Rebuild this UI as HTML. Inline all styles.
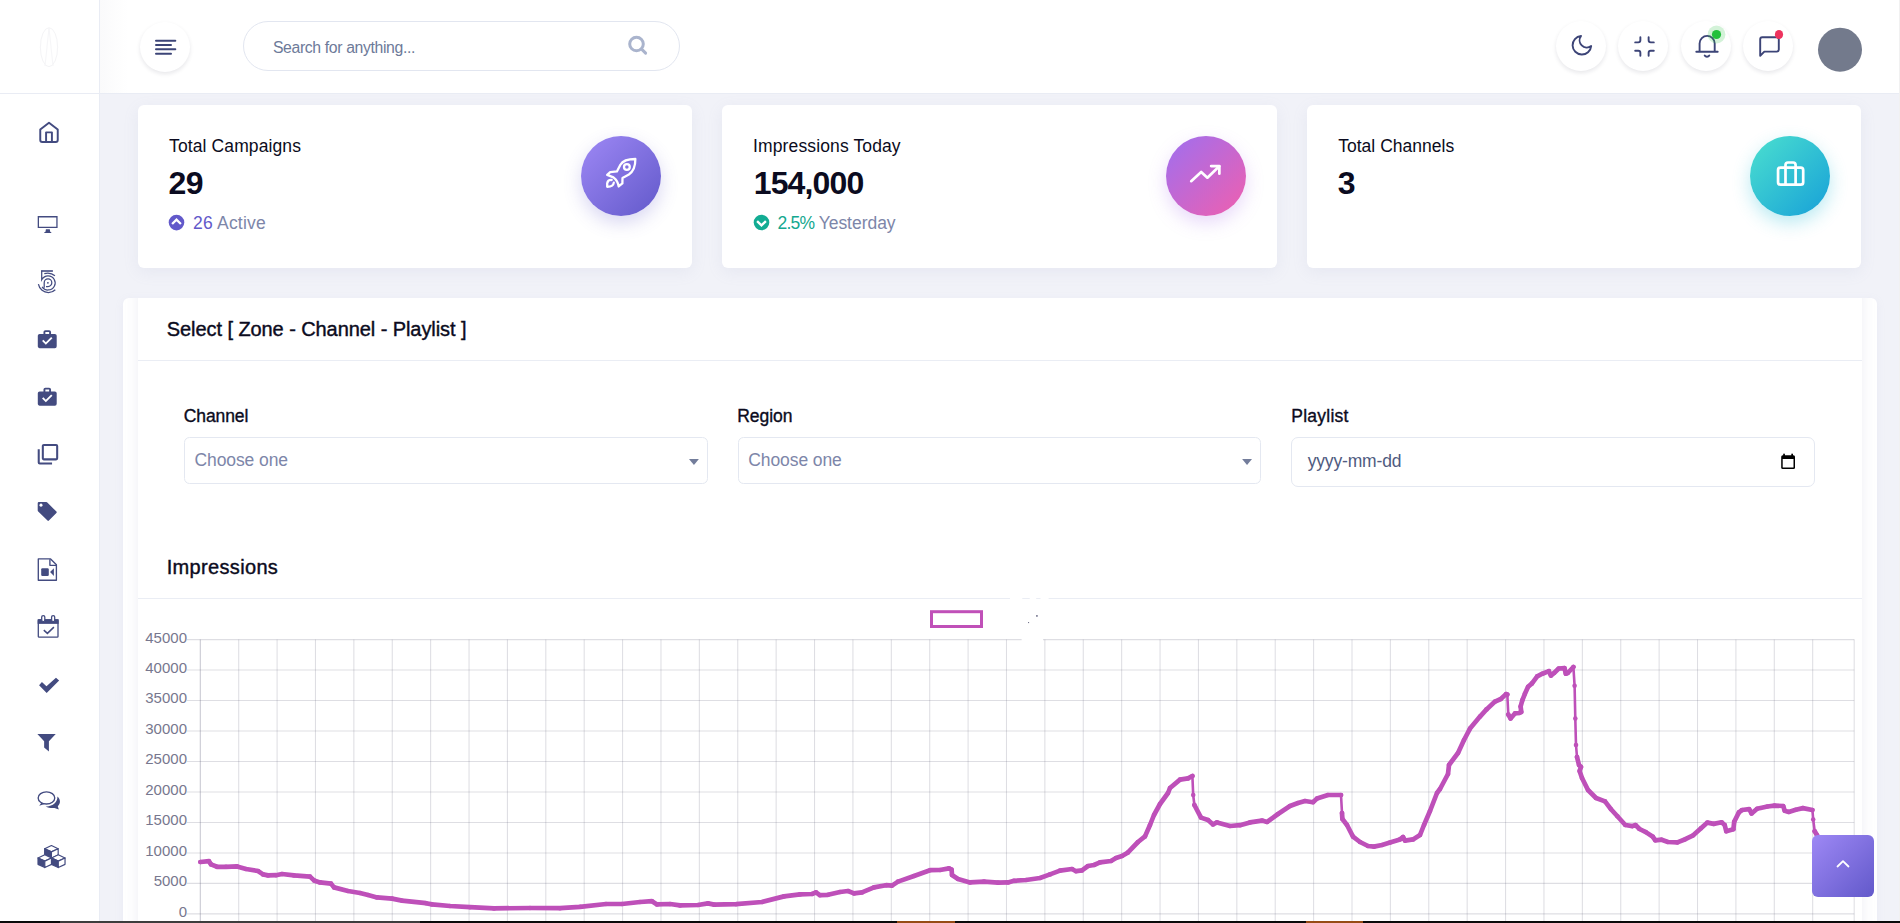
<!DOCTYPE html>
<html lang="en">
<head>
<meta charset="utf-8">
<title>Dashboard</title>
<style>
*{box-sizing:border-box;margin:0;padding:0}
html,body{width:1900px;height:923px;overflow:hidden;background:#f1f2f8;font-family:"Liberation Sans",sans-serif;color:#0f0f2a}
.abs{position:absolute}
#page{position:relative;width:1900px;height:923px;overflow:hidden;background:#f1f2f8}
#sidebar{left:0;top:0;width:100px;height:923px;background:#fff;border-right:1px solid #e9ecf4}
#logo{left:0;top:0;width:100px;height:94px;border-bottom:1px solid #e9ecf4;border-right:1px solid #e9ecf4;background:#fff}
#header{left:100px;top:0;width:1800px;height:94px;background:linear-gradient(90deg,#fafafb 0,#fff 28px);border-bottom:1px solid #e9ecf4}
.circ{width:50px;height:50px;border-radius:50%;background:#fff;box-shadow:0 2px 4px rgba(20,20,50,.10)}
#search{left:243px;top:21px;width:437px;height:50px;border:1px solid #e2e6f0;border-radius:25px;background:#fff}
.t{position:absolute;display:block;white-space:nowrap;line-height:1;font-weight:normal}
.card{position:absolute;background:#fff;border-radius:6px;box-shadow:0 4px 16px rgba(150,155,195,.11)}
.gc{position:absolute;width:80px;height:80px;border-radius:50%}
.lbl{font-size:17.5px;color:#0f0f2a;-webkit-text-stroke:.35px #0f0f2a}
.sel{position:absolute;height:47px;border:1px solid #e4e8f1;border-radius:5.500px;background:#fff}
.ph{font-size:17.5px;color:#7987a8}
svg{position:absolute;overflow:visible}
</style>
</head>
<body>
<div id="page">
<aside class="abs" id="sidebar"></aside>
<header class="abs" id="header"></header>
<div class="abs" id="logo"></div>
<div class="abs circ" style="left:140px;top:21.500px"></div>
<div class="abs" id="search"></div>
<div class="abs circ" style="left:1556px;top:20.500px"></div>
<div class="abs circ" style="left:1618px;top:20.500px"></div>
<div class="abs circ" style="left:1681px;top:20.500px"></div>
<div class="abs circ" style="left:1743px;top:20.500px"></div>
<!-- outer wrapper card -->
<div class="abs" style="left:123px;top:298px;width:1754px;height:700px;background:#fff;border-radius:6px;box-shadow:0 2px 10px rgba(150,155,195,.09);overflow:hidden">
<!-- inner card -->
<div class="abs" id="inner" style="left:15px;top:-14px;width:1724px;height:720px;background:#fff;border-radius:6px;box-shadow:0 0 14px rgba(150,155,195,.16)"></div>
</div>
<div class="abs" style="left:138px;top:360px;width:1724px;height:1px;background:#eaedf4"></div>
<div class="abs" style="left:138px;top:598px;width:1724px;height:1px;background:#eaedf4"></div>

<!-- stat cards -->
<div class="card" style="left:138px;top:105px;width:554px;height:163px"></div>
<div class="card" style="left:722px;top:105px;width:555px;height:163px"></div>
<div class="card" style="left:1307px;top:105px;width:554px;height:163px"></div>

<div class="gc" style="left:581px;top:136px;background:linear-gradient(135deg,#9e88f5 0%,#6259ca 100%);box-shadow:0 7px 18px rgba(98,89,202,.24)"></div>
<div class="gc" style="left:1166px;top:136px;background:linear-gradient(135deg,#9e6ff0 0%,#f05fae 100%);box-shadow:0 7px 18px rgba(165,110,235,.26)"></div>
<div class="gc" style="left:1750px;top:136px;background:linear-gradient(135deg,#4be0cf 0%,#17a0d8 100%);box-shadow:0 7px 18px rgba(40,190,215,.32)"></div>




<!-- titles -->

<!-- form -->
<div class="sel" style="left:184px;top:437px;width:524px"></div>
<div class="sel" style="left:738px;top:437px;width:523px"></div>
<div class="sel" style="left:1291px;top:437px;width:524px;height:50px;border-radius:7px"></div>
<span class="t" id="t_search" style="left:272.93px;top:40.00px;font-size:15.8px;letter-spacing:-0.366px;color:#6d7a99">Search for anything...</span>
<h6 class="t" id="t_tc" style="left:169.04px;top:138.00px;font-size:17.5px;letter-spacing:0.113px;color:#0b0b20">Total Campaigns</h6>
<h2 class="t" id="t_29" style="left:168.57px;top:167.00px;font-size:32px;letter-spacing:-0.655px;font-weight:bold;color:#0b0b20">29</h2>
<p class="t" id="t_26" style="left:192.93px;top:215.00px;font-size:17.5px;letter-spacing:0.231px;color:#7d86a9"><span style="color:#6259ca">26</span> Active</p>
<h6 class="t" id="t_it" style="left:753.08px;top:138.00px;font-size:17.5px;letter-spacing:0.122px;color:#0b0b20">Impressions Today</h6>
<h2 class="t" id="t_154" style="left:753.72px;top:167.00px;font-size:32px;letter-spacing:-0.853px;font-weight:bold;color:#0b0b20">154,000</h2>
<p class="t" id="t_25" style="left:777.62px;top:215.00px;font-size:17.5px;letter-spacing:-0.025px;color:#7d86a9"><span style="color:#14a88f;letter-spacing:-.85px">2.5%</span> Yesterday</p>
<h6 class="t" id="t_tch" style="left:1338.18px;top:138.00px;font-size:17.5px;letter-spacing:0.023px;color:#0b0b20">Total Channels</h6>
<h2 class="t" id="t_3" style="left:1337.65px;top:167.00px;font-size:32px;letter-spacing:0.000px;font-weight:bold;color:#0b0b20">3</h2>
<h3 class="t" id="t_sel" style="left:166.82px;top:319.00px;font-size:20px;letter-spacing:-0.077px;color:#0b0b20;-webkit-text-stroke:.4px #0b0b20">Select [ Zone - Channel - Playlist ]</h3>
<h3 class="t" id="t_imp" style="left:166.69px;top:557.00px;font-size:20px;letter-spacing:0.335px;color:#0b0b20;-webkit-text-stroke:.4px #0b0b20">Impressions</h3>
<label class="t" id="t_ch" style="left:183.71px;top:408.00px;font-size:17.5px;letter-spacing:-0.083px;color:#0b0b20;-webkit-text-stroke:.35px #0b0b20">Channel</label>
<label class="t" id="t_rg" style="left:737.21px;top:408.00px;font-size:17.5px;letter-spacing:-0.024px;color:#0b0b20;-webkit-text-stroke:.35px #0b0b20">Region</label>
<label class="t" id="t_pl" style="left:1291.25px;top:408.00px;font-size:17.5px;letter-spacing:0.256px;color:#0b0b20;-webkit-text-stroke:.35px #0b0b20">Playlist</label>
<span class="t" id="t_c1" style="left:194.49px;top:452.00px;font-size:17.5px;letter-spacing:-0.095px;color:#7d86a9">Choose one</span>
<span class="t" id="t_c2" style="left:748.22px;top:452.00px;font-size:17.5px;letter-spacing:-0.085px;color:#7d86a9">Choose one</span>
<span class="t" id="t_dt" style="left:1307.64px;top:453.00px;font-size:17.5px;letter-spacing:-0.154px;color:#4f5b80">yyyy-mm-dd</span>
<svg width="1900" height="923" viewBox="0 0 1900 923" style="left:0;top:0" fill="none">
<g stroke="rgba(88,88,115,0.2)" stroke-width="1.05">
<line x1="187" y1="913.85" x2="1854.2" y2="913.85"/>
<line x1="187" y1="883.38" x2="1854.2" y2="883.38"/>
<line x1="187" y1="852.91" x2="1854.2" y2="852.91"/>
<line x1="187" y1="822.44" x2="1854.2" y2="822.44"/>
<line x1="187" y1="791.97" x2="1854.2" y2="791.97"/>
<line x1="187" y1="761.50" x2="1854.2" y2="761.50"/>
<line x1="187" y1="731.03" x2="1854.2" y2="731.03"/>
<line x1="187" y1="700.56" x2="1854.2" y2="700.56"/>
<line x1="187" y1="670.09" x2="1854.2" y2="670.09"/>
<line x1="187" y1="639.62" x2="1854.2" y2="639.62"/>
<line x1="200.30" y1="639.62" x2="200.30" y2="923"/>
<line x1="238.69" y1="639.62" x2="238.69" y2="923"/>
<line x1="277.08" y1="639.62" x2="277.08" y2="923"/>
<line x1="315.47" y1="639.62" x2="315.47" y2="923"/>
<line x1="353.86" y1="639.62" x2="353.86" y2="923"/>
<line x1="392.25" y1="639.62" x2="392.25" y2="923"/>
<line x1="430.64" y1="639.62" x2="430.64" y2="923"/>
<line x1="469.03" y1="639.62" x2="469.03" y2="923"/>
<line x1="507.42" y1="639.62" x2="507.42" y2="923"/>
<line x1="545.81" y1="639.62" x2="545.81" y2="923"/>
<line x1="584.20" y1="639.62" x2="584.20" y2="923"/>
<line x1="622.59" y1="639.62" x2="622.59" y2="923"/>
<line x1="660.98" y1="639.62" x2="660.98" y2="923"/>
<line x1="699.37" y1="639.62" x2="699.37" y2="923"/>
<line x1="737.76" y1="639.62" x2="737.76" y2="923"/>
<line x1="776.15" y1="639.62" x2="776.15" y2="923"/>
<line x1="814.54" y1="639.62" x2="814.54" y2="923"/>
<line x1="852.93" y1="639.62" x2="852.93" y2="923"/>
<line x1="891.32" y1="639.62" x2="891.32" y2="923"/>
<line x1="929.71" y1="639.62" x2="929.71" y2="923"/>
<line x1="968.10" y1="639.62" x2="968.10" y2="923"/>
<line x1="1006.49" y1="639.62" x2="1006.49" y2="923"/>
<line x1="1044.88" y1="639.62" x2="1044.88" y2="923"/>
<line x1="1083.27" y1="639.62" x2="1083.27" y2="923"/>
<line x1="1121.66" y1="639.62" x2="1121.66" y2="923"/>
<line x1="1160.05" y1="639.62" x2="1160.05" y2="923"/>
<line x1="1198.44" y1="639.62" x2="1198.44" y2="923"/>
<line x1="1236.83" y1="639.62" x2="1236.83" y2="923"/>
<line x1="1275.22" y1="639.62" x2="1275.22" y2="923"/>
<line x1="1313.61" y1="639.62" x2="1313.61" y2="923"/>
<line x1="1352.00" y1="639.62" x2="1352.00" y2="923"/>
<line x1="1390.39" y1="639.62" x2="1390.39" y2="923"/>
<line x1="1428.78" y1="639.62" x2="1428.78" y2="923"/>
<line x1="1467.17" y1="639.62" x2="1467.17" y2="923"/>
<line x1="1505.56" y1="639.62" x2="1505.56" y2="923"/>
<line x1="1543.95" y1="639.62" x2="1543.95" y2="923"/>
<line x1="1582.34" y1="639.62" x2="1582.34" y2="923"/>
<line x1="1620.73" y1="639.62" x2="1620.73" y2="923"/>
<line x1="1659.12" y1="639.62" x2="1659.12" y2="923"/>
<line x1="1697.51" y1="639.62" x2="1697.51" y2="923"/>
<line x1="1735.90" y1="639.62" x2="1735.90" y2="923"/>
<line x1="1774.29" y1="639.62" x2="1774.29" y2="923"/>
<line x1="1812.68" y1="639.62" x2="1812.68" y2="923"/>
<line x1="1854.2" y1="639.62" x2="1854.2" y2="923"/>
</g>
<line x1="200.3" y1="639.62" x2="200.3" y2="923" stroke="rgba(88,88,115,0.15)" stroke-width="1.05"/>
<g font-family="Liberation Sans, sans-serif" font-size="15" fill="#77778e" text-anchor="end">
<text x="187" y="916.75">0</text>
<text x="187" y="886.28">5000</text>
<text x="187" y="855.81">10000</text>
<text x="187" y="825.34">15000</text>
<text x="187" y="794.87">20000</text>
<text x="187" y="764.40">25000</text>
<text x="187" y="733.93">30000</text>
<text x="187" y="703.46">35000</text>
<text x="187" y="672.99">40000</text>
<text x="187" y="642.52">45000</text>
</g>
<path d="M1010 596.500h12.300v3.500h-12.300z M1029.700 596.500h6.500v3.500h-6.500z M1040.500 596.500h8.100v3.500h-8.100z M1021.600 637.500h21.400v3.600h-21.400z" fill="#fff"/><rect x="1036" y="615" width="1.800" height="1.800" fill="#8a8aa0"/><rect x="1028" y="622" width="1.100" height="1.100" fill="#77778e"/>
<rect x="931.5" y="611.7" width="50" height="14.800" stroke="#c050b8" stroke-width="3"/>
<path d="M200.4 862.0 L209.0 861.2 L211.0 864.4 L217.0 866.8 L226.0 866.8 L237.0 866.4 L246.0 869.0 L258.0 871.0 L263.0 874.4 L268.0 875.4 L276.0 875.2 L282.0 874.0 L294.0 875.4 L310.0 876.6 L314.0 880.4 L320.0 882.4 L331.0 883.6 L334.0 887.4 L348.0 891.0 L360.0 893.0 L368.0 895.0 L377.0 897.4 L392.0 898.6 L402.0 900.6 L426.0 903.2 L432.0 904.4 L450.0 906.0 L470.0 907.2 L494.0 908.4 L530.0 908.0 L560.0 908.2 L580.0 906.8 L606.0 904.0 L622.0 904.0 L640.0 902.0 L652.0 901.2 L657.0 904.4 L670.0 904.0 L680.0 905.4 L698.0 905.0 L708.0 903.4 L714.0 904.6 L736.0 904.2 L762.0 902.0 L784.0 896.4 L800.0 894.4 L812.0 894.0 L816.0 892.4 L820.0 895.2 L828.0 894.8 L840.0 892.0 L848.0 891.0 L854.0 893.4 L862.0 892.4 L874.0 887.4 L886.0 885.2 L892.0 885.6 L898.0 881.6 L914.0 876.0 L930.0 870.2 L940.0 870.0 L949.0 868.4 L951.6 869.6 L952.0 875.0 L958.0 879.0 L970.0 882.4 L984.0 881.6 L998.0 882.6 L1008.0 882.4 L1014.0 880.8 L1026.0 880.0 L1040.0 878.0 L1050.0 874.4 L1060.0 870.6 L1072.0 869.0 L1076.0 871.2 L1082.0 870.4 L1088.0 866.0 L1094.0 865.0 L1100.0 862.4 L1111.0 861.0 L1116.0 858.0 L1122.0 856.0 L1128.0 852.4 L1138.0 842.0 L1145.0 836.4 L1150.0 825.0 L1154.0 815.0 L1160.0 804.0 L1168.0 793.0 L1170.0 788.0 L1180.0 779.6 L1188.0 778.4 L1192.4 776.0 L1193.2 795.0 L1194.4 805.0 L1201.0 817.6 L1208.0 820.0 L1213.0 824.4 L1217.0 822.4 L1230.0 826.0 L1240.0 825.2 L1250.0 822.4 L1262.0 820.6 L1267.0 822.0 L1278.0 814.0 L1290.0 806.0 L1298.0 803.0 L1305.0 801.0 L1313.0 802.2 L1317.0 798.6 L1328.0 795.0 L1341.0 795.0 L1342.0 813.0 L1342.4 819.0 L1347.0 825.0 L1353.0 836.6 L1360.0 842.0 L1368.0 846.0 L1374.0 846.6 L1382.0 845.0 L1390.0 842.6 L1400.0 839.4 L1403.0 837.0 L1405.0 840.6 L1413.0 839.4 L1420.0 835.0 L1424.0 825.0 L1430.0 811.0 L1437.0 793.0 L1440.0 789.0 L1448.0 774.0 L1449.0 765.0 L1458.0 753.0 L1464.0 740.0 L1470.0 728.6 L1480.0 716.6 L1486.5 709.4 L1495.0 701.6 L1500.8 699.0 L1506.0 694.1 L1507.3 694.5 L1508.3 714.6 L1510.6 718.5 L1515.1 713.3 L1519.0 713.0 L1521.3 712.0 L1520.6 706.5 L1522.3 700.3 L1524.9 693.8 L1528.1 686.7 L1532.0 683.4 L1537.2 676.3 L1542.4 673.7 L1548.9 671.1 L1550.9 675.6 L1554.1 673.0 L1558.7 668.5 L1564.5 668.1 L1565.8 673.7 L1567.8 673.0 L1573.4 667.0 L1574.6 685.7 L1575.3 718.5 L1576.0 745.0 L1577.0 757.0 L1579.0 765.0 L1581.0 767.0 L1579.6 771.0 L1582.0 778.0 L1588.0 790.0 L1596.0 798.0 L1605.0 801.4 L1611.0 809.2 L1617.4 816.3 L1625.3 825.0 L1632.4 826.1 L1635.5 825.0 L1639.5 829.0 L1645.8 832.1 L1652.9 836.8 L1655.3 840.3 L1661.6 839.7 L1667.9 842.0 L1677.4 842.4 L1685.3 839.2 L1693.2 835.3 L1701.0 828.2 L1707.4 822.6 L1713.7 823.9 L1721.6 822.3 L1724.7 825.0 L1726.3 831.3 L1733.4 829.3 L1734.2 821.8 L1738.9 812.4 L1742.1 810.0 L1749.2 809.2 L1751.6 813.5 L1757.1 808.7 L1767.4 806.5 L1774.5 805.6 L1783.2 806.0 L1784.7 810.8 L1788.7 812.0 L1795.8 809.7 L1802.9 808.1 L1812.4 810.0 L1813.2 819.5 L1814.7 831.3 L1817.1 835.3 L1819.0 842.0 L1822.0 850.0" stroke="#be50b9" stroke-width="2.600" stroke-linejoin="round" stroke-linecap="round"/>
<path d="M200.4 862.0 L209.0 861.2 L211.0 864.4 L217.0 866.8 L226.0 866.8 L237.0 866.4 L246.0 869.0 L258.0 871.0 L263.0 874.4 L268.0 875.4 L276.0 875.2 L282.0 874.0 L294.0 875.4 L310.0 876.6 L314.0 880.4 L320.0 882.4 L331.0 883.6 L334.0 887.4 L348.0 891.0 L360.0 893.0 L368.0 895.0 L377.0 897.4 L392.0 898.6 L402.0 900.6 L426.0 903.2 L432.0 904.4 L450.0 906.0 L470.0 907.2 L494.0 908.4 L530.0 908.0 L560.0 908.2 L580.0 906.8 L606.0 904.0 L622.0 904.0 L640.0 902.0 L652.0 901.2 L657.0 904.4 L670.0 904.0 L680.0 905.4 L698.0 905.0 L708.0 903.4 L714.0 904.6 L736.0 904.2 L762.0 902.0 L784.0 896.4 L800.0 894.4 L812.0 894.0 L816.0 892.4 L820.0 895.2 L828.0 894.8 L840.0 892.0 L848.0 891.0 L854.0 893.4 L862.0 892.4 L874.0 887.4 L886.0 885.2 L892.0 885.6 L898.0 881.6 L914.0 876.0 L930.0 870.2 L940.0 870.0 L949.0 868.4 L951.6 869.6 L952.0 875.0 L958.0 879.0 L970.0 882.4 L984.0 881.6 L998.0 882.6 L1008.0 882.4 L1014.0 880.8 L1026.0 880.0 L1040.0 878.0 L1050.0 874.4 L1060.0 870.6 L1072.0 869.0 L1076.0 871.2 L1082.0 870.4 L1088.0 866.0 L1094.0 865.0 L1100.0 862.4 L1111.0 861.0 L1116.0 858.0 L1122.0 856.0 L1128.0 852.4 L1138.0 842.0 L1145.0 836.4 L1150.0 825.0 L1154.0 815.0 L1160.0 804.0 L1168.0 793.0 L1170.0 788.0 L1180.0 779.6 L1188.0 778.4 L1192.4 776.0 M1194.4 805.0 L1201.0 817.6 L1208.0 820.0 L1213.0 824.4 L1217.0 822.4 L1230.0 826.0 L1240.0 825.2 L1250.0 822.4 L1262.0 820.6 L1267.0 822.0 L1278.0 814.0 L1290.0 806.0 L1298.0 803.0 L1305.0 801.0 L1313.0 802.2 L1317.0 798.6 L1328.0 795.0 L1341.0 795.0 M1342.0 813.0 L1342.4 819.0 L1347.0 825.0 L1353.0 836.6 L1360.0 842.0 L1368.0 846.0 L1374.0 846.6 L1382.0 845.0 L1390.0 842.6 L1400.0 839.4 L1403.0 837.0 L1405.0 840.6 L1413.0 839.4 L1420.0 835.0 L1424.0 825.0 L1430.0 811.0 L1437.0 793.0 L1440.0 789.0 L1448.0 774.0 L1449.0 765.0 L1458.0 753.0 L1464.0 740.0 L1470.0 728.6 L1480.0 716.6 L1486.5 709.4 L1495.0 701.6 L1500.8 699.0 L1506.0 694.1 L1507.3 694.5 M1508.3 714.6 L1510.6 718.5 L1515.1 713.3 L1519.0 713.0 L1521.3 712.0 L1520.6 706.5 L1522.3 700.3 L1524.9 693.8 L1528.1 686.7 L1532.0 683.4 L1537.2 676.3 L1542.4 673.7 L1548.9 671.1 L1550.9 675.6 L1554.1 673.0 L1558.7 668.5 L1564.5 668.1 L1565.8 673.7 L1567.8 673.0 L1573.4 667.0 M1577.0 757.0 L1579.0 765.0 L1581.0 767.0 L1579.6 771.0 L1582.0 778.0 L1588.0 790.0 L1596.0 798.0 L1605.0 801.4 L1611.0 809.2 L1617.4 816.3 L1625.3 825.0 L1632.4 826.1 L1635.5 825.0 L1639.5 829.0 L1645.8 832.1 L1652.9 836.8 L1655.3 840.3 L1661.6 839.7 L1667.9 842.0 L1677.4 842.4 L1685.3 839.2 L1693.2 835.3 L1701.0 828.2 L1707.4 822.6 L1713.7 823.9 L1721.6 822.3 L1724.7 825.0 L1726.3 831.3 L1733.4 829.3 L1734.2 821.8 L1738.9 812.4 L1742.1 810.0 L1749.2 809.2 L1751.6 813.5 L1757.1 808.7 L1767.4 806.5 L1774.5 805.6 L1783.2 806.0 L1784.7 810.8 L1788.7 812.0 L1795.8 809.7 L1802.9 808.1 L1812.4 810.0 M1814.7 831.3 L1817.1 835.3 L1819.0 842.0 L1822.0 850.0" stroke="#be50b9" stroke-width="4.700" stroke-linejoin="round" stroke-linecap="round"/>
<g fill="#be50b9"><circle cx="200.4" cy="862.0" r="2.300"/><circle cx="209.0" cy="861.2" r="2.300"/><circle cx="211.0" cy="864.4" r="2.300"/><circle cx="217.0" cy="866.8" r="2.300"/><circle cx="226.0" cy="866.8" r="2.300"/><circle cx="237.0" cy="866.4" r="2.300"/><circle cx="246.0" cy="869.0" r="2.300"/><circle cx="258.0" cy="871.0" r="2.300"/><circle cx="263.0" cy="874.4" r="2.300"/><circle cx="268.0" cy="875.4" r="2.300"/><circle cx="276.0" cy="875.2" r="2.300"/><circle cx="282.0" cy="874.0" r="2.300"/><circle cx="294.0" cy="875.4" r="2.300"/><circle cx="310.0" cy="876.6" r="2.300"/><circle cx="314.0" cy="880.4" r="2.300"/><circle cx="320.0" cy="882.4" r="2.300"/><circle cx="331.0" cy="883.6" r="2.300"/><circle cx="334.0" cy="887.4" r="2.300"/><circle cx="348.0" cy="891.0" r="2.300"/><circle cx="360.0" cy="893.0" r="2.300"/><circle cx="368.0" cy="895.0" r="2.300"/><circle cx="377.0" cy="897.4" r="2.300"/><circle cx="392.0" cy="898.6" r="2.300"/><circle cx="402.0" cy="900.6" r="2.300"/><circle cx="426.0" cy="903.2" r="2.300"/><circle cx="432.0" cy="904.4" r="2.300"/><circle cx="450.0" cy="906.0" r="2.300"/><circle cx="470.0" cy="907.2" r="2.300"/><circle cx="494.0" cy="908.4" r="2.300"/><circle cx="530.0" cy="908.0" r="2.300"/><circle cx="560.0" cy="908.2" r="2.300"/><circle cx="580.0" cy="906.8" r="2.300"/><circle cx="606.0" cy="904.0" r="2.300"/><circle cx="622.0" cy="904.0" r="2.300"/><circle cx="640.0" cy="902.0" r="2.300"/><circle cx="652.0" cy="901.2" r="2.300"/><circle cx="657.0" cy="904.4" r="2.300"/><circle cx="670.0" cy="904.0" r="2.300"/><circle cx="680.0" cy="905.4" r="2.300"/><circle cx="698.0" cy="905.0" r="2.300"/><circle cx="708.0" cy="903.4" r="2.300"/><circle cx="714.0" cy="904.6" r="2.300"/><circle cx="736.0" cy="904.2" r="2.300"/><circle cx="762.0" cy="902.0" r="2.300"/><circle cx="784.0" cy="896.4" r="2.300"/><circle cx="800.0" cy="894.4" r="2.300"/><circle cx="812.0" cy="894.0" r="2.300"/><circle cx="816.0" cy="892.4" r="2.300"/><circle cx="820.0" cy="895.2" r="2.300"/><circle cx="828.0" cy="894.8" r="2.300"/><circle cx="840.0" cy="892.0" r="2.300"/><circle cx="848.0" cy="891.0" r="2.300"/><circle cx="854.0" cy="893.4" r="2.300"/><circle cx="862.0" cy="892.4" r="2.300"/><circle cx="874.0" cy="887.4" r="2.300"/><circle cx="886.0" cy="885.2" r="2.300"/><circle cx="892.0" cy="885.6" r="2.300"/><circle cx="898.0" cy="881.6" r="2.300"/><circle cx="914.0" cy="876.0" r="2.300"/><circle cx="930.0" cy="870.2" r="2.300"/><circle cx="940.0" cy="870.0" r="2.300"/><circle cx="949.0" cy="868.4" r="2.300"/><circle cx="951.6" cy="869.6" r="2.300"/><circle cx="952.0" cy="875.0" r="2.300"/><circle cx="958.0" cy="879.0" r="2.300"/><circle cx="970.0" cy="882.4" r="2.300"/><circle cx="984.0" cy="881.6" r="2.300"/><circle cx="998.0" cy="882.6" r="2.300"/><circle cx="1008.0" cy="882.4" r="2.300"/><circle cx="1014.0" cy="880.8" r="2.300"/><circle cx="1026.0" cy="880.0" r="2.300"/><circle cx="1040.0" cy="878.0" r="2.300"/><circle cx="1050.0" cy="874.4" r="2.300"/><circle cx="1060.0" cy="870.6" r="2.300"/><circle cx="1072.0" cy="869.0" r="2.300"/><circle cx="1076.0" cy="871.2" r="2.300"/><circle cx="1082.0" cy="870.4" r="2.300"/><circle cx="1088.0" cy="866.0" r="2.300"/><circle cx="1094.0" cy="865.0" r="2.300"/><circle cx="1100.0" cy="862.4" r="2.300"/><circle cx="1111.0" cy="861.0" r="2.300"/><circle cx="1116.0" cy="858.0" r="2.300"/><circle cx="1122.0" cy="856.0" r="2.300"/><circle cx="1128.0" cy="852.4" r="2.300"/><circle cx="1138.0" cy="842.0" r="2.300"/><circle cx="1145.0" cy="836.4" r="2.300"/><circle cx="1150.0" cy="825.0" r="2.300"/><circle cx="1154.0" cy="815.0" r="2.300"/><circle cx="1160.0" cy="804.0" r="2.300"/><circle cx="1168.0" cy="793.0" r="2.300"/><circle cx="1170.0" cy="788.0" r="2.300"/><circle cx="1180.0" cy="779.6" r="2.300"/><circle cx="1188.0" cy="778.4" r="2.300"/><circle cx="1192.4" cy="776.0" r="2.300"/><circle cx="1193.2" cy="795.0" r="2.300"/><circle cx="1194.4" cy="805.0" r="2.300"/><circle cx="1201.0" cy="817.6" r="2.300"/><circle cx="1208.0" cy="820.0" r="2.300"/><circle cx="1213.0" cy="824.4" r="2.300"/><circle cx="1217.0" cy="822.4" r="2.300"/><circle cx="1230.0" cy="826.0" r="2.300"/><circle cx="1240.0" cy="825.2" r="2.300"/><circle cx="1250.0" cy="822.4" r="2.300"/><circle cx="1262.0" cy="820.6" r="2.300"/><circle cx="1267.0" cy="822.0" r="2.300"/><circle cx="1278.0" cy="814.0" r="2.300"/><circle cx="1290.0" cy="806.0" r="2.300"/><circle cx="1298.0" cy="803.0" r="2.300"/><circle cx="1305.0" cy="801.0" r="2.300"/><circle cx="1313.0" cy="802.2" r="2.300"/><circle cx="1317.0" cy="798.6" r="2.300"/><circle cx="1328.0" cy="795.0" r="2.300"/><circle cx="1341.0" cy="795.0" r="2.300"/><circle cx="1342.0" cy="813.0" r="2.300"/><circle cx="1342.4" cy="819.0" r="2.300"/><circle cx="1347.0" cy="825.0" r="2.300"/><circle cx="1353.0" cy="836.6" r="2.300"/><circle cx="1360.0" cy="842.0" r="2.300"/><circle cx="1368.0" cy="846.0" r="2.300"/><circle cx="1374.0" cy="846.6" r="2.300"/><circle cx="1382.0" cy="845.0" r="2.300"/><circle cx="1390.0" cy="842.6" r="2.300"/><circle cx="1400.0" cy="839.4" r="2.300"/><circle cx="1403.0" cy="837.0" r="2.300"/><circle cx="1405.0" cy="840.6" r="2.300"/><circle cx="1413.0" cy="839.4" r="2.300"/><circle cx="1420.0" cy="835.0" r="2.300"/><circle cx="1424.0" cy="825.0" r="2.300"/><circle cx="1430.0" cy="811.0" r="2.300"/><circle cx="1437.0" cy="793.0" r="2.300"/><circle cx="1440.0" cy="789.0" r="2.300"/><circle cx="1448.0" cy="774.0" r="2.300"/><circle cx="1449.0" cy="765.0" r="2.300"/><circle cx="1458.0" cy="753.0" r="2.300"/><circle cx="1464.0" cy="740.0" r="2.300"/><circle cx="1470.0" cy="728.6" r="2.300"/><circle cx="1480.0" cy="716.6" r="2.300"/><circle cx="1486.5" cy="709.4" r="2.300"/><circle cx="1495.0" cy="701.6" r="2.300"/><circle cx="1500.8" cy="699.0" r="2.300"/><circle cx="1506.0" cy="694.1" r="2.300"/><circle cx="1507.3" cy="694.5" r="2.300"/><circle cx="1508.3" cy="714.6" r="2.300"/><circle cx="1510.6" cy="718.5" r="2.300"/><circle cx="1515.1" cy="713.3" r="2.300"/><circle cx="1519.0" cy="713.0" r="2.300"/><circle cx="1521.3" cy="712.0" r="2.300"/><circle cx="1520.6" cy="706.5" r="2.300"/><circle cx="1522.3" cy="700.3" r="2.300"/><circle cx="1524.9" cy="693.8" r="2.300"/><circle cx="1528.1" cy="686.7" r="2.300"/><circle cx="1532.0" cy="683.4" r="2.300"/><circle cx="1537.2" cy="676.3" r="2.300"/><circle cx="1542.4" cy="673.7" r="2.300"/><circle cx="1548.9" cy="671.1" r="2.300"/><circle cx="1550.9" cy="675.6" r="2.300"/><circle cx="1554.1" cy="673.0" r="2.300"/><circle cx="1558.7" cy="668.5" r="2.300"/><circle cx="1564.5" cy="668.1" r="2.300"/><circle cx="1565.8" cy="673.7" r="2.300"/><circle cx="1567.8" cy="673.0" r="2.300"/><circle cx="1573.4" cy="667.0" r="2.300"/><circle cx="1574.6" cy="685.7" r="2.300"/><circle cx="1575.3" cy="718.5" r="2.300"/><circle cx="1576.0" cy="745.0" r="2.300"/><circle cx="1577.0" cy="757.0" r="2.300"/><circle cx="1579.0" cy="765.0" r="2.300"/><circle cx="1581.0" cy="767.0" r="2.300"/><circle cx="1579.6" cy="771.0" r="2.300"/><circle cx="1582.0" cy="778.0" r="2.300"/><circle cx="1588.0" cy="790.0" r="2.300"/><circle cx="1596.0" cy="798.0" r="2.300"/><circle cx="1605.0" cy="801.4" r="2.300"/><circle cx="1611.0" cy="809.2" r="2.300"/><circle cx="1617.4" cy="816.3" r="2.300"/><circle cx="1625.3" cy="825.0" r="2.300"/><circle cx="1632.4" cy="826.1" r="2.300"/><circle cx="1635.5" cy="825.0" r="2.300"/><circle cx="1639.5" cy="829.0" r="2.300"/><circle cx="1645.8" cy="832.1" r="2.300"/><circle cx="1652.9" cy="836.8" r="2.300"/><circle cx="1655.3" cy="840.3" r="2.300"/><circle cx="1661.6" cy="839.7" r="2.300"/><circle cx="1667.9" cy="842.0" r="2.300"/><circle cx="1677.4" cy="842.4" r="2.300"/><circle cx="1685.3" cy="839.2" r="2.300"/><circle cx="1693.2" cy="835.3" r="2.300"/><circle cx="1701.0" cy="828.2" r="2.300"/><circle cx="1707.4" cy="822.6" r="2.300"/><circle cx="1713.7" cy="823.9" r="2.300"/><circle cx="1721.6" cy="822.3" r="2.300"/><circle cx="1724.7" cy="825.0" r="2.300"/><circle cx="1726.3" cy="831.3" r="2.300"/><circle cx="1733.4" cy="829.3" r="2.300"/><circle cx="1734.2" cy="821.8" r="2.300"/><circle cx="1738.9" cy="812.4" r="2.300"/><circle cx="1742.1" cy="810.0" r="2.300"/><circle cx="1749.2" cy="809.2" r="2.300"/><circle cx="1751.6" cy="813.5" r="2.300"/><circle cx="1757.1" cy="808.7" r="2.300"/><circle cx="1767.4" cy="806.5" r="2.300"/><circle cx="1774.5" cy="805.6" r="2.300"/><circle cx="1783.2" cy="806.0" r="2.300"/><circle cx="1784.7" cy="810.8" r="2.300"/><circle cx="1788.7" cy="812.0" r="2.300"/><circle cx="1795.8" cy="809.7" r="2.300"/><circle cx="1802.9" cy="808.1" r="2.300"/><circle cx="1812.4" cy="810.0" r="2.300"/><circle cx="1813.2" cy="819.5" r="2.300"/><circle cx="1814.7" cy="831.3" r="2.300"/><circle cx="1817.1" cy="835.3" r="2.300"/><circle cx="1819.0" cy="842.0" r="2.300"/><circle cx="1822.0" cy="850.0" r="2.300"/></g>
</svg>
<svg width="1900" height="923" viewBox="0 0 1900 923" style="left:0;top:0" fill="none">
<ellipse cx="49" cy="47.2" rx="8.600" ry="19.500" stroke="#f4f4f6" stroke-width="1"/><path d="M49 28L45 66M49 28L53 66" stroke="#f6f6f8" stroke-width="1"/>
<g stroke="#3c4477" stroke-width="2" stroke-linecap="round"><line x1="156" y1="40.7" x2="175.3" y2="40.7"/><line x1="156" y1="45" x2="171" y2="45"/><line x1="156" y1="49.2" x2="175.3" y2="49.2"/><line x1="156" y1="53.7" x2="171" y2="53.7"/></g>
<g stroke="#aab4cd" stroke-width="3" stroke-linecap="round"><circle cx="636.5" cy="44" r="6.8"/><line x1="641.6" y1="49.1" x2="645.6" y2="53.1"/></g>
<g transform="translate(1569.45,32.85) scale(1.0333)" stroke="#3c4477" stroke-width="1.85" stroke-linecap="round" stroke-linejoin="round"><path d="M21 12.79A9 9 0 1 1 11.21 3 7 7 0 0 0 21 12.79z"/></g>
<g transform="translate(1632.10,34.15) scale(1.0333)" stroke="#3c4477" stroke-width="1.85" stroke-linecap="round" stroke-linejoin="round"><path d="M8 3v3a2 2 0 0 1-2 2H3m18 0h-3a2 2 0 0 1-2-2V3m0 18v-3a2 2 0 0 1 2-2h3M3 16h3a2 2 0 0 1 2 2v3"/></g>
<g stroke="#3c4477" stroke-width="1.9" stroke-linecap="round" stroke-linejoin="round"><path d="M1696.3 51.8 H1717.7 M1699.6 51.8 V43.4 A7.55 7.55 0 0 1 1714.7 43.4 V51.8"/><path d="M1704.700 55.500 A2.700 2.700 0 0 0 1709.300 55.500"/></g>
<g transform="translate(1757.10,34.10) scale(1.0333)" stroke="#3c4477" stroke-width="1.85" stroke-linecap="round" stroke-linejoin="round"><path d="M21 15a2 2 0 0 1-2 2H7l-4 4V5a2 2 0 0 1 2-2h14a2 2 0 0 1 2 2z"/></g>
<circle cx="1716.5" cy="34.5" r="8.9" fill="rgba(34,192,60,.2)"/><circle cx="1716.5" cy="34.5" r="4.6" fill="#22c03c"/>
<ellipse cx="1779" cy="34.5" rx="4.1" ry="4.6" fill="#ee335e"/>
<circle cx="1840" cy="49.7" r="22" fill="#737a8c"/>
<g transform="translate(37.35,120.70) scale(0.9708)" stroke="#434b80" stroke-width="2" stroke-linecap="round" stroke-linejoin="round"><path d="M3 9l9-7 9 7v11a2 2 0 0 1-2 2H5a2 2 0 0 1-2-2z"/><polyline points="9 22 9 12 15 12 15 22"/></g>
<g fill="#434b80"><path fill-rule="evenodd" d="M37.7 216.1h19.9v11.9h-19.9z M39 217.4v9.3h17.3v-9.3z"/><path d="M45.9 229.2h3.9l.4 2.5 1.1 .5v.8h-7v-.8l1.2-.5z"/></g>
<g stroke="#434b80" stroke-width="1.25" stroke-linecap="butt"><path d="M41.2 271h11.7" stroke-width="1.6"/><path d="M41.7 270.6v9.1c1.6-2.6 3.6-3.9 6.3-3.9a7.1 7.1 0 1 1-5.9 11"/><path d="M44.3 273.6c3.9-1 7.8-.3 10.6 2.2"/><path d="M38.4 284.2c1 5.2 5.4 8.4 10 8.4 2.700 0 5.100-1 6.900-2.800"/><path d="M44.200 287.700v-5a3.800 3.800 0 1 1 3.800 3.800h-2"/><circle cx="47.9" cy="282.8" r=".9" fill="#434b80" stroke="none"/></g>
<g transform="translate(35.90,328.30) scale(0.9458)" fill="#434b80"><path d="M10,2H14A2,2 0 0,1 16,4V6H20A2,2 0 0,1 22,8V19A2,2 0 0,1 20,21H4C2.89,21 2,20.1 2,19V8C2,6.89 2.89,6 4,6H8V4C8,2.89 8.89,2 10,2M14,6V4H10V6H14M10.500,17.500L17.500,10.500L16.090,9.090L10.500,14.670L7.910,12.090L6.500,13.500L10.500,17.500Z"/></g>
<g transform="translate(35.90,385.80) scale(0.9458)" fill="#434b80"><path d="M10,2H14A2,2 0 0,1 16,4V6H20A2,2 0 0,1 22,8V19A2,2 0 0,1 20,21H4C2.89,21 2,20.1 2,19V8C2,6.89 2.89,6 4,6H8V4C8,2.89 8.89,2 10,2M14,6V4H10V6H14M10.500,17.500L17.500,10.500L16.090,9.090L10.500,14.670L7.910,12.090L6.500,13.500L10.500,17.500Z"/></g>
<g transform="translate(35.65,441.95) scale(1.0250)" fill="#434b80"><path d="M20,16V4H8V16H20M22,16A2,2 0 0,1 20,18H8C6.89,18 6,17.1 6,16V4C6,2.89 6.89,2 8,2H20A2,2 0 0,1 22,4V16M16,20V22H4A2,2 0 0,1 2,20V7H4V20H16Z"/></g>
<path fill="#434b80" fill-rule="evenodd" d="M38.9 502.100H46.400Q46.900 502.100 47.300 502.500L56.400 511.600Q57.100 512.300 56.400 513L48.900 520.600Q48.200 521.300 47.500 520.600L38.200 511.500Q37.700 511.100 37.700 510.500V503.300Q37.700 502.100 38.900 502.100Z M41 503.600a1.600 1.600 0 1 0 .01 0Z"/>
<g stroke="#434b80" stroke-width="1.35" stroke-linejoin="round"><path d="M38.300 558.900H50.600L56.400 564.700V580.200H38.300Z"/><path d="M49.900 559.300V565.300H56"/></g><rect x="41.2" y="568.2" width="7.600" height="7.800" rx="1.200" fill="#434b80"/><path d="M50.050 572.100L53.900 568.300V575.900Z" fill="#434b80"/>
<g stroke="#434b80" stroke-width="1.300"><rect x="38.300" y="619.900" width="19.700" height="17.300" rx=".8"/><rect x="38.300" y="619.900" width="19.700" height="3.300" fill="#434b80"/><rect x="41.700" y="615.600" width="3.100" height="6" rx="1.500" fill="#fff"/><rect x="51.600" y="615.600" width="3.100" height="6" rx="1.500" fill="#fff"/><path d="M43.800 630.100L47.400 633.400L53.900 627.100" stroke-width="1.500"/></g>
<path fill="#434b80" d="M39.070 685.200L41.940 682.100L46.460 686.300L55.970 677.700L59.140 680.400L46.670 692.900Z"/>
<path fill="#434b80" d="M37.370 734.050H55.760L48.910 741.200V751.600L44.140 747.600V741.200Z"/>
<g><ellipse cx="46.460" cy="797.900" rx="8.300" ry="6.050" stroke="#434b80" stroke-width="1.350"/><path fill="#434b80" d="M41.400 802.800L39.200 805.800L44.800 803.900Z"/><path fill="#434b80" d="M57.400 796.500C60.500 799.200 61 803 57.800 806.200L58.800 809.600L54.500 807.900C51.500 808.400 48.500 807.800 45.600 806.400C52.500 806.800 57.800 802 57.400 796.500Z"/></g>
<polygon points="51.42,845.52 44.66,848.69 51.42,851.86 58.18,848.69" fill="#fff" stroke="#434b80" stroke-width="1.2" stroke-linejoin="round"/>
<polygon points="44.66,848.69 51.42,851.86 51.42,858.29 44.66,855.12" fill="#434b80" stroke="#434b80" stroke-width="1.2" stroke-linejoin="round"/>
<polygon points="51.42,851.86 58.18,848.69 58.18,855.12 51.42,858.29" fill="#fff" stroke="#434b80" stroke-width="1.2" stroke-linejoin="round"/>
<polygon points="44.78,854.78 38.02,857.95 44.78,861.12 51.55,857.95" fill="#fff" stroke="#434b80" stroke-width="1.2" stroke-linejoin="round"/>
<polygon points="38.02,857.95 44.78,861.12 44.78,867.54 38.02,864.37" fill="#434b80" stroke="#434b80" stroke-width="1.2" stroke-linejoin="round"/>
<polygon points="44.78,861.12 51.55,857.95 51.55,864.37 44.78,867.54" fill="#fff" stroke="#434b80" stroke-width="1.2" stroke-linejoin="round"/>
<polygon points="58.27,854.78 51.50,857.95 58.27,861.12 65.03,857.95" fill="#fff" stroke="#434b80" stroke-width="1.2" stroke-linejoin="round"/>
<polygon points="51.50,857.95 58.27,861.12 58.27,867.54 51.50,864.37" fill="#434b80" stroke="#434b80" stroke-width="1.2" stroke-linejoin="round"/>
<polygon points="58.27,861.12 65.03,857.95 65.03,864.37 58.27,867.54" fill="#fff" stroke="#434b80" stroke-width="1.2" stroke-linejoin="round"/>
<g transform="translate(591,153) scale(0.04983)" stroke="#fff" stroke-width="46" stroke-linejoin="round" stroke-linecap="round"><path d="M890,120 C760,120 640,150 590,235 L520,370 L385,385 L325,440 L450,488 C505,530 545,590 555,672 L630,610 L632,500 L760,430 C850,370 892,280 890,120 Z"/><circle cx="720" cy="280" r="58"/><path d="M415,542 C375,538 335,560 325,605 L325,678 C400,675 452,650 457,597"/></g>
<g transform="translate(1176,153) scale(0.04983)" stroke="#fff" stroke-width="54" stroke-linejoin="round" stroke-linecap="round"><path d="M305,565 L505,380 L630,495 L868,267"/><path d="M705,262 H870 V415"/></g>
<g stroke="#fff" stroke-width="2.700" stroke-linejoin="round" stroke-linecap="round"><rect x="1778.050" y="167.550" width="25.150" height="17.100" rx="2.500"/><path d="M1785.500 184.600V165a2.500 2.500 0 0 1 2.500-2.500h5.100a2.500 2.500 0 0 1 2.500 2.500V184.600"/></g>
<circle cx="176.500" cy="222.600" r="7.800" fill="#6259ca"/><path d="M172.100 224L176.500 219.700L180.900 224" stroke="#fff" stroke-width="2.300" stroke-linecap="butt" stroke-linejoin="miter"/>
<circle cx="761.500" cy="222.500" r="7.800" fill="#12ac93"/><path d="M757.100 221.100L761.500 225.400L765.900 221.100" stroke="#fff" stroke-width="2.300" stroke-linecap="butt" stroke-linejoin="miter"/>
<path d="M689 458.900h9.900l-4.950 6.200z" fill="#737d9b"/><path d="M1242.100 458.900h9.900l-4.950 6.200z" fill="#737d9b"/>
<rect x="1781.200" y="455.200" width="13.800" height="13.800" rx="1.500" fill="#000"/><rect x="1783.200" y="453.700" width="1.700" height="3" fill="#000"/><rect x="1791.300" y="453.700" width="1.700" height="3" fill="#000"/><rect x="1782.700" y="459.100" width="10.800" height="8.400" rx=".3" fill="#fff"/>
</svg>
<!-- back to top -->
<div class="abs" style="left:1812px;top:835px;width:62px;height:62px;border-radius:6px;background:linear-gradient(135deg,#9e88f5 0%,#6259ca 100%)"></div>
<svg width="20" height="12" viewBox="0 0 20 12" style="left:1833px;top:858px" fill="none"><path d="M4.500 8.500L10 3.200L15.500 8.500" stroke="#fff" stroke-width="1.800" stroke-linecap="round" stroke-linejoin="round"/></svg>
<div class="abs" style="left:1899px;top:0;width:1px;height:921px;background:#f1f1f1"></div>
<!-- bottom bar -->
<div class="abs" style="left:0;top:921px;width:1900px;height:2px;background:linear-gradient(90deg,#0a0a0a 0,#0a0a0a 60px,#3d3d3d 60px,#3d3d3d 420px,#0a0a0a 420px,#0a0a0a 897px,#974c15 897px,#974c15 955px,#0a0a0a 955px,#0a0a0a 1306px,#974c15 1306px,#974c15 1363px,#0a0a0a 1363px)"></div>
</div>
</body>
</html>
